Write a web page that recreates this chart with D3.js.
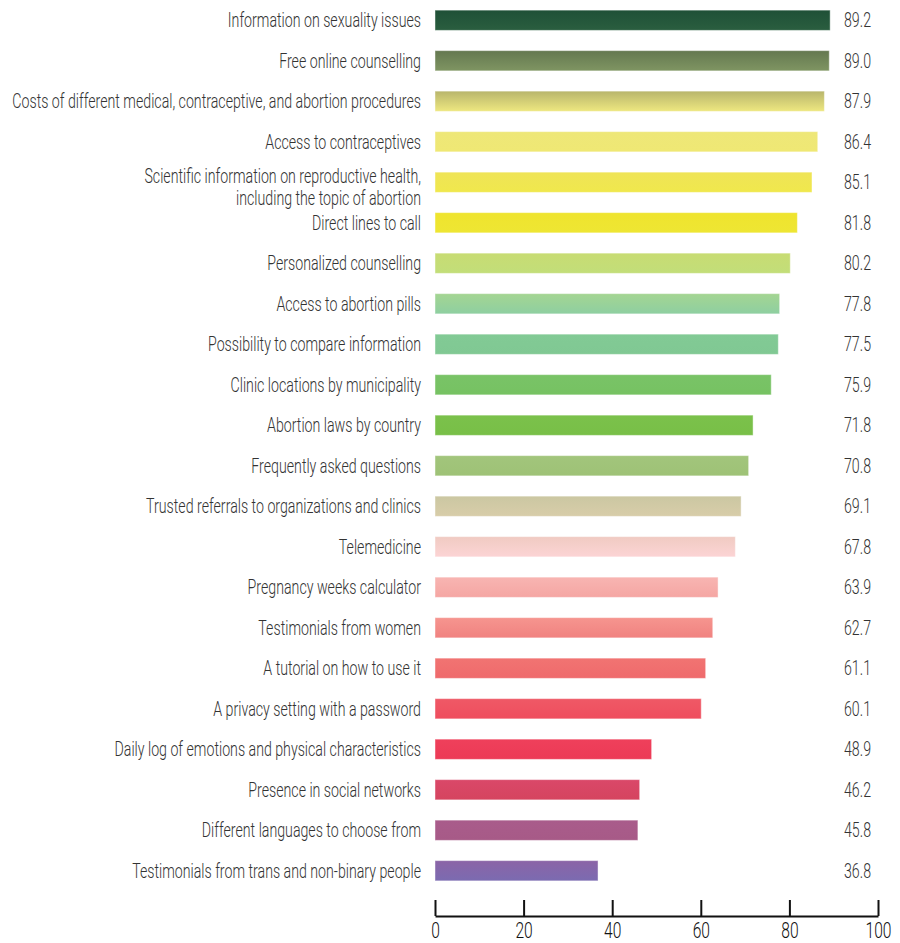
<!DOCTYPE html>
<html>
<head>
<meta charset="utf-8">
<script src="https://cdn.jsdelivr.net/npm/d3@7"></script>
<style>
  body { margin: 0; background: #fff; }
  svg text { font-family: Roboto, "DejaVu Sans Condensed", sans-serif; font-weight: 300; }
</style>
</head>
<body>
<div id="chart"></div>
<script>
// features ranked by share (%)
const categories = [
  'Information on sexuality issues',
  'Free online counselling',
  'Costs of different medical, contraceptive, and abortion procedures',
  'Access to contraceptives',
  'Scientific information on reproductive health,|including the topic of abortion',
  'Direct lines to call',
  'Personalized counselling',
  'Access to abortion pills',
  'Possibility to compare information',
  'Clinic locations by municipality',
  'Abortion laws by country',
  'Frequently asked questions',
  'Trusted referrals to organizations and clinics',
  'Telemedicine',
  'Pregnancy weeks calculator',
  'Testimonials from women',
  'A tutorial on how to use it',
  'A privacy setting with a password',
  'Daily log of emotions and physical characteristics',
  'Presence in social networks',
  'Different languages to choose from',
  'Testimonials from trans and non-binary people'
];
const values = [89.2, 89.0, 87.9, 86.4, 85.1, 81.8, 80.2, 77.8, 77.5, 75.9, 71.8,
                70.8, 69.1, 67.8, 63.9, 62.7, 61.1, 60.1, 48.9, 46.2, 45.8, 36.8];
// gradient colours per bar: [top, bottom]
const barColors = [
  ['#1f5037', '#2a5e3f'], ['#647850', '#7f9562'], ['#b8b56c', '#eee880'],
  ['#eee778', '#efe874'], ['#efe457', '#f0e84c'], ['#efe42e', '#eee633'],
  ['#c8dc73', '#c2de79'], ['#a4d592', '#8ecfa1'], ['#82ca95', '#80c893'],
  ['#79c367', '#76c262'], ['#7bc14b', '#78bf47'], ['#a2c57c', '#9ec276'],
  ['#cbc7a2', '#d8cda9'], ['#f0cbc2', '#fcd4d5'], ['#f8b5b2', '#f5a6a3'],
  ['#f6958f', '#f08280'], ['#f17472', '#ef6a6c'], ['#ef5966', '#ef4d5e'],
  ['#ef405b', '#ec3a56'], ['#da4869', '#d5445f'], ['#a95c8b', '#a75a87'],
  ['#8b64a6', '#7b6bb1']
];
const xTicks = [0, 20, 40, 60, 80, 100];

const width = 900, height = 943;
const LABEL_RIGHT = 421;
const VALUE_RIGHT = 871;
const FONT_SIZE = 20;

const svg = d3.select('#chart').append('svg')
  .attr('width', width).attr('height', height);

const x = d3.scaleLinear().domain([0, 100]).range([435, 878]);
const y = d3.scaleBand().domain(d3.range(categories.length))
  .range([0, 891]).paddingInner(0.5).paddingOuter(0.25);

// the source font is a narrow one, so squeeze Roboto horizontally
// factor is picked so the longest label spans 12 -> 421 like in the original
const probe = svg.append('text').attr('font-size', FONT_SIZE)
  .text('Costs of different medical, contraceptive, and abortion procedures');
const squeeze = 409 / probe.node().getComputedTextLength();
probe.remove();

function narrowText(sel, tx, ty, size) {
  return sel.append('text')
    .attr('transform', `translate(${tx},${ty}) scale(${squeeze},1)`)
    .attr('text-anchor', 'end')
    .attr('font-size', size)
    .attr('fill', '#333');
}

// vertical gradients, one per bar
const defs = svg.append('defs');
barColors.forEach((c, i) => {
  const g = defs.append('linearGradient').attr('id', 'grad' + i)
    .attr('x1', 0).attr('y1', 0).attr('x2', 0).attr('y2', 1);
  g.append('stop').attr('offset', '0%').attr('stop-color', c[0]);
  g.append('stop').attr('offset', '100%').attr('stop-color', c[1]);
});

const rows = svg.append('g').selectAll('g.row')
  .data(values)
  .join('g')
  .attr('class', 'row');

rows.append('rect')
  .attr('x', x(0))
  .attr('y', (d, i) => y(i))
  .attr('width', d => x(d) - x(0))
  .attr('height', y.bandwidth())
  .attr('fill', (d, i) => `url(#grad${i})`)
  .attr('stroke', 'rgba(255,255,255,0.45)')
  .attr('stroke-width', 1);

rows.each(function(d, i) {
  const row = d3.select(this);
  const cy = y(i) + y.bandwidth() / 2;

  // category label, some wrap onto two lines (first line sits near the bar's middle)
  const lines = categories[i].split('|');
  lines.forEach((line, k) => {
    narrowText(row, LABEL_RIGHT, cy + 7 + k * 22 - (lines.length - 1) * 6, FONT_SIZE)
      .text(line);
  });

  // value label
  narrowText(row, VALUE_RIGHT, cy + 7, FONT_SIZE).text(d.toFixed(1));
});

// axis at the bottom, ticks pointing up
const axis = svg.append('g')
  .attr('transform', 'translate(0,916)')
  .call(d3.axisBottom(x).tickValues(xTicks).tickSizeInner(-16).tickSizeOuter(0).tickPadding(0));
axis.select('.domain').attr('stroke', '#111').attr('stroke-width', 2);
axis.selectAll('.tick line').attr('stroke', '#111').attr('stroke-width', 2);
axis.selectAll('.tick text')
  .attr('y', null).attr('dy', null)
  .attr('transform', `translate(0,22) scale(${squeeze},1)`)
  .attr('font-size', 22)
  .attr('font-weight', 400)
  .attr('fill', '#111');
</script>
</body>
</html>
